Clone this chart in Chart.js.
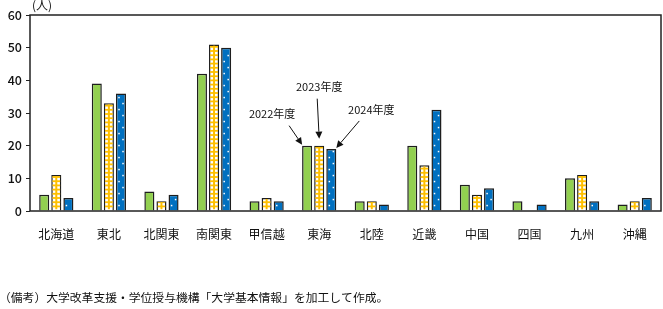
<!DOCTYPE html>
<html>
<head>
<meta charset="utf-8">
<script src="https://cdn.jsdelivr.net/npm/chart.js@4/dist/chart.umd.min.js"></script>
<style>
  html, body { margin: 0; padding: 0; background: #fff; }
  #wrap { position: relative; width: 663px; height: 309px; }
</style>
</head>
<body>
<div id="wrap"><canvas id="myChart" width="663" height="309"></canvas></div>
<script>
var labels = ["北海道", "東北", "北関東", "南関東", "甲信越", "東海", "北陸", "近畿", "中国", "四国", "九州", "沖縄"];
var years = ["2022年度", "2023年度", "2024年度"];
var y2022 = [5, 39, 6, 42, 3, 20, 3, 20, 8, 3, 10, 2];
var y2023 = [11, 33, 3, 51, 4, 20, 3, 14, 5, 0, 11, 3];
var y2024 = [4, 36, 5, 50, 3, 19, 2, 31, 7, 2, 3, 4];
var yTicks = [0, 10, 20, 30, 40, 50, 60];
var unitLabel = "(人)";
var note = "（備考）大学改革支援・学位授与機構「大学基本情報」を加工して作成。";

var FONT = "'Noto Sans CJK JP', 'Noto Sans', sans-serif";
var EDGE = "#1e1e1e";
var INK = "#111";

// grid / dot fills drawn per bar so the pattern lines up with each bar
var fillPlugin = {
  id: "fills",
  afterDatasetsDraw: function(chart) {
    var ctx = chart.ctx;
    // yellow grid
    chart.getDatasetMeta(1).data.forEach(function(bar) {
      var l = bar.x - bar.width / 2 + 1, r = bar.x + bar.width / 2 - 1;
      var t = bar.y + 1, b = bar.base - 1;
      if (b - t < 1) return;
      ctx.save();
      ctx.beginPath();
      ctx.rect(l, t, r - l, b - t);
      ctx.clip();
      ctx.fillStyle = "#ffc000";
      ctx.fillRect(bar.x - 1, t, 2, b - t);
      for (var y = b - 3; y > t - 2; y -= 4.2) {
        ctx.fillRect(l, y - 1, r - l, 1.8);
      }
      ctx.restore();
    });
    // blue dots
    chart.getDatasetMeta(2).data.forEach(function(bar) {
      var t = bar.y + 2, b = bar.base - 2;
      if (b - t < 3) return;
      ctx.save();
      ctx.fillStyle = "#ffffff";
      var k = 0;
      for (var y = b - 3; y > t; y -= 6) {
        var x = bar.x + (k % 2 === 0 ? -2 : 2);
        ctx.fillRect(x - 0.7, y - 0.7, 1.5, 1.5);
        k++;
      }
      ctx.restore();
    });
  }
};

var framePlugin = {
  id: "frame",
  afterDraw: function(chart) {
    var ctx = chart.ctx;
    var a = chart.chartArea;
    ctx.save();
    ctx.strokeStyle = "#222";
    ctx.lineWidth = 1.5;
    ctx.strokeRect(a.left, a.top, a.right - a.left, a.bottom - a.top);

    ctx.fillStyle = INK;
    ctx.font = "12px " + FONT;
    ctx.textAlign = "left";
    ctx.textBaseline = "middle";
    ctx.fillText(unitLabel, a.left + 2, 5);

    ctx.font = "11.8px " + FONT;
    ctx.fillText(note, -1, 298);

    // year callouts at 東海
    var i = labels.indexOf("東海");
    var g = chart.getDatasetMeta(0).data[i];
    var yb = chart.getDatasetMeta(1).data[i];
    var bb = chart.getDatasetMeta(2).data[i];
    ctx.font = "11px " + FONT;
    ctx.textAlign = "center";
    ctx.fillText(years[0], g.x - 35, g.y - 32);
    ctx.fillText(years[1], yb.x, yb.y - 59);
    ctx.fillText(years[2], bb.x + 40, bb.y - 39);

    arrow(ctx, g.x - 18, g.y - 20, g.x - 5, g.y - 1);
    arrow(ctx, yb.x - 2, yb.y - 47, yb.x, yb.y - 7);
    arrow(ctx, bb.x + 28, bb.y - 28, bb.x + 5, bb.y - 1);
    ctx.restore();
  }
};

function arrow(ctx, x1, y1, x2, y2) {
  var ang = Math.atan2(y2 - y1, x2 - x1);
  var hl = 7, hw = 3.5;
  ctx.save();
  ctx.strokeStyle = INK;
  ctx.fillStyle = INK;
  ctx.lineWidth = 1;
  ctx.beginPath();
  ctx.moveTo(x1, y1);
  ctx.lineTo(x2 - hl * Math.cos(ang), y2 - hl * Math.sin(ang));
  ctx.stroke();
  ctx.beginPath();
  ctx.moveTo(x2, y2);
  ctx.lineTo(x2 - hl * Math.cos(ang) + hw * Math.sin(ang), y2 - hl * Math.sin(ang) - hw * Math.cos(ang));
  ctx.lineTo(x2 - hl * Math.cos(ang) - hw * Math.sin(ang), y2 - hl * Math.sin(ang) + hw * Math.cos(ang));
  ctx.closePath();
  ctx.fill();
  ctx.restore();
}

var data = {
  labels: labels,
  datasets: [
    { label: years[0], data: y2022, backgroundColor: "#92d050", borderColor: EDGE, borderWidth: 1.5 },
    { label: years[1], data: y2023, backgroundColor: "#ffffff", borderColor: EDGE, borderWidth: 1.5 },
    { label: years[2], data: y2024, backgroundColor: "#0070c0", borderColor: EDGE, borderWidth: 1.5 }
  ]
};

var config = {
  type: "bar",
  data: data,
  plugins: [fillPlugin, framePlugin],
  options: {
    responsive: false,
    animation: false,
    layout: { padding: { top: 15, right: 2, left: 0, bottom: 0 } },
    datasets: { bar: { categoryPercentage: 0.69, barPercentage: 0.83 } },
    plugins: { legend: { display: false }, tooltip: { enabled: false } },
    scales: {
      x: {
        grid: { display: false },
        border: { display: false },
        ticks: { color: INK, font: { family: FONT, size: 12 }, padding: 8, maxRotation: 0 },
        afterFit: function(s) { s.height = 98; }
      },
      y: {
        min: 0, max: 60,
        afterBuildTicks: function(s) { s.ticks = yTicks.map(function(v) { return { value: v }; }); },
        grid: { drawOnChartArea: false, drawTicks: true, tickLength: 4, tickColor: "#222", color: "#222" },
        border: { display: false },
        ticks: { color: INK, font: { family: FONT, size: 12.5, weight: "500" }, padding: 4 },
        afterFit: function(s) { s.width = 30; }
      }
    }
  }
};

var myChart = new Chart(document.getElementById("myChart"), config);
</script>
</body>
</html>
